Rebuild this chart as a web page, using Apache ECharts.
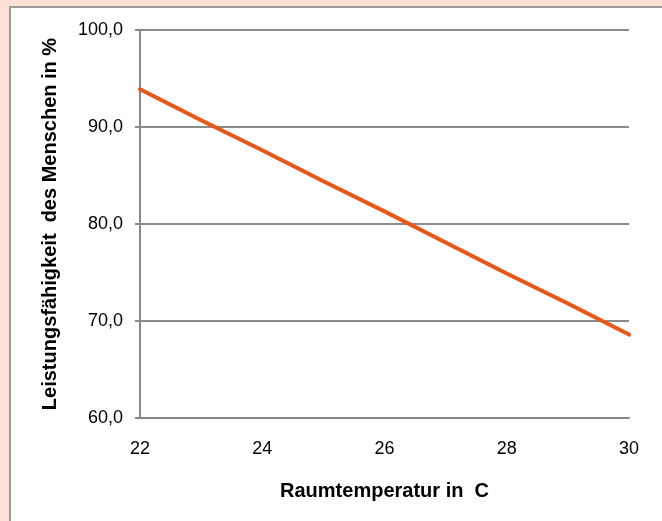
<!DOCTYPE html>
<html>
<head>
<meta charset="utf-8">
<script src="https://cdn.jsdelivr.net/npm/echarts@6/dist/echarts.min.js"></script>
<style>
  html, body { margin: 0; padding: 0; background: #fde0d6; }
  #chart { width: 662px; height: 521px; }
</style>
</head>
<body>
<div id="chart"></div>
<script>
// Raumtemperatur (°C)
const temps = [22, 23, 24, 25, 26, 27, 28, 29, 30]
// Leistungsfähigkeit in %
const leistung = [93.9, 90.7, 87.6, 84.4, 81.3, 78.1, 74.9, 71.8, 68.6]

const xName = 'Raumtemperatur in  C'
const yName = 'Leistungsfähigkeit  des Menschen in %'

const myChart = echarts.init(document.getElementById('chart'))
myChart.setOption({
  backgroundColor: '#fde0d6',
  animation: false,
  textStyle: { fontFamily: 'Liberation Sans, Arial, sans-serif' },
  graphic: [
    {
      type: 'rect',
      silent: true,
      z: -10,
      shape: { x: 10, y: 7, width: 660, height: 520 },
      style: { fill: '#ffffff', stroke: '#9a9a9a', lineWidth: 2 }
    }
  ],
  grid: {
    left: 140,
    right: 33,
    top: 30,
    bottom: 103
  },
  xAxis: {
    type: 'value',
    min: 22,
    max: 30,
    interval: 2,
    name: xName,
    nameLocation: 'middle',
    nameGap: 63,
    nameTextStyle: { color: '#000', fontSize: 20, fontWeight: 'bold' },
    axisLine: { show: true, lineStyle: { color: '#888', width: 2 } },
    axisTick: { show: false },
    axisLabel: { color: '#000', fontSize: 18, margin: 22 },
    splitLine: { show: false }
  },
  yAxis: {
    type: 'value',
    min: 60,
    max: 100,
    interval: 10,
    name: yName,
    nameLocation: 'middle',
    nameGap: 80,
    nameRotate: 90,
    nameTextStyle: { color: '#000', fontSize: 20, fontWeight: 'bold' },
    axisLine: { show: true, lineStyle: { color: '#888', width: 2 } },
    axisTick: { show: true, length: 5, lineStyle: { color: '#888', width: 2 } },
    axisLabel: {
      color: '#000',
      fontSize: 18,
      margin: 17,
      formatter: (v) => v.toFixed(1).replace('.', ',')
    },
    splitLine: { show: true, lineStyle: { color: '#8c8c8c', width: 2 } }
  },
  series: [
    {
      type: 'line',
      data: temps.map((t, i) => [t, leistung[i]]),
      showSymbol: false,
      smooth: false,
      lineStyle: { color: '#e8561a', width: 4, cap: 'round' }
    }
  ]
})
</script>
</body>
</html>
